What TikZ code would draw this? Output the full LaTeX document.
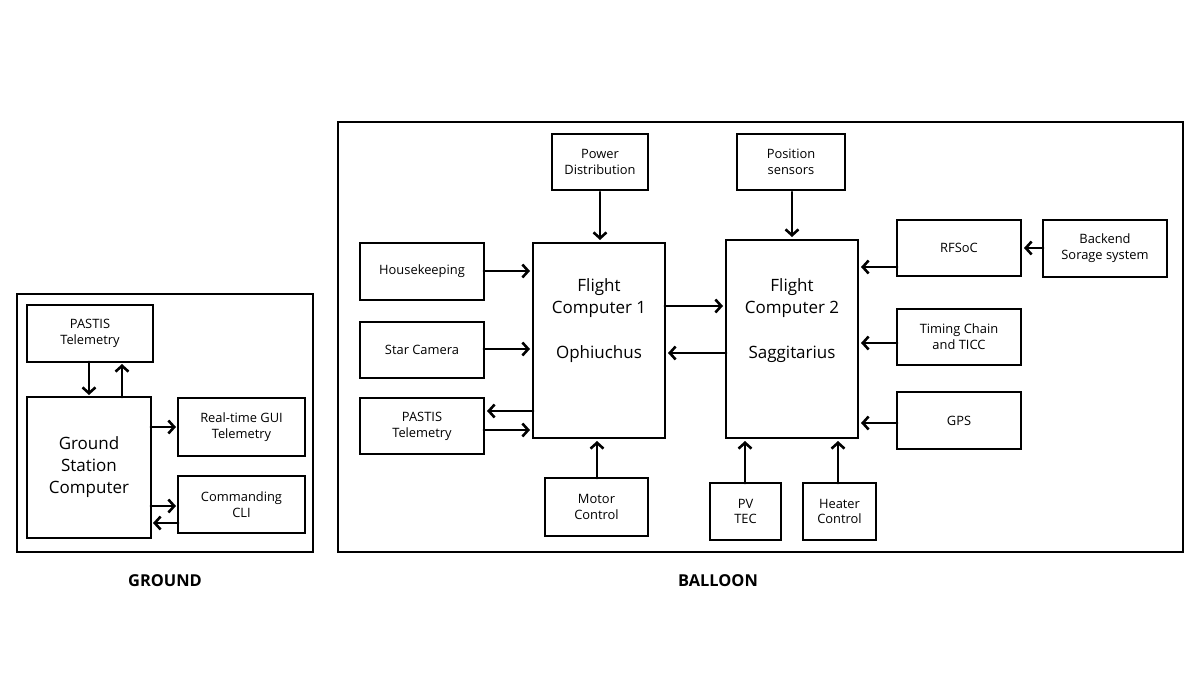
\documentclass[tikz,border=0pt]{standalone}
\usepackage{fontspec}
\setmainfont{Open Sans}
\usetikzlibrary{arrows.meta}
\begin{document}
\begin{tikzpicture}[x=0.03cm,y=-0.03cm,
 box/.style={draw,line width=1.6pt,inner sep=0pt},
 sm/.style={font=\fontsize{11}{13.5}\selectfont,align=center},
 big/.style={font=\fontsize{14.5}{19}\selectfont,align=center},
 lab/.style={font=\fontsize{14}{16}\selectfont\bfseries},
 ar/.style={line width=2.4pt,line cap=round,-{Straight Barb[length=5pt,width=11pt,line width=2.2pt]}}]
\useasboundingbox (0,0) rectangle (1200,675);
\newcommand{\bx}[6]{\draw[box] (#2,#3) rectangle (#4,#5); \node[sm] (#1) at ({(#2+#4)/2},{(#3+#5)/2}) {#6};
 \coordinate (#1nw) at (#2,#3); \coordinate (#1se) at (#4,#5);}
% outer frames
\draw[box] (17,294) rectangle (313,552);
\draw[box] (338,122) rectangle (1183,552);
\node[lab] (glab) at (165,581) {GROUND};
\node[lab] (blab) at (718,581) {BALLOON};
% ground
\bx{gp}{27}{305}{153}{362}{PASTIS\\Telemetry}
\draw[box] (27,397) rectangle (151,538);
\node[big] (gsc) at (89,467) {Ground\\Station\\Computer};
\bx{gui}{178}{398}{305}{456}{Real-time GUI\\Telemetry}
\bx{cli}{178}{476}{305}{533}{Commanding\\CLI}
\draw[ar] (89,362) -- (89,395);
\draw[ar] (122,397) -- (122,364);
\draw[ar] (151,427) -- (176,427);
\draw[ar] (151,506) -- (176,506);
\draw[ar] (178,523) -- (153,523);
% balloon
\bx{pd}{552}{134}{648}{190}{Power\\Distribution}
\bx{ps}{737}{134}{845}{190}{Position\\sensors}
\bx{hk}{360}{243}{484}{300}{Housekeeping}
\bx{sc}{360}{322}{484}{378}{Star Camera}
\bx{pt}{360}{398}{484}{454}{PASTIS\\Telemetry}
\draw[box] (533,243) rectangle (665,438);
\node[big] (fc1a) at (599,298) {Flight\\Computer 1};
\node[big] (fc1b) at (599,354) {Ophiuchus};
\draw[box] (726,240) rectangle (858,438);
\node[big] (fc2a) at (792,298) {Flight\\Computer 2};
\node[big] (fc2b) at (792,354) {Saggitarius};
\bx{rf}{897}{220}{1021}{276}{RFSoC}
\bx{be}{1043}{220}{1167}{277}{Backend\\Sorage system}
\bx{tc}{897}{309}{1021}{365}{Timing Chain\\and TICC}
\bx{gps}{897}{392}{1021}{449}{GPS}
\bx{mc}{545}{478}{648}{536}{Motor\\Control}
\bx{pv}{710}{483}{781}{540}{PV\\TEC}
\bx{hc}{803}{483}{876}{540}{Heater\\Control}
\draw[ar] (600,192) -- (600,240);
\draw[ar] (792,192) -- (792,237);
\draw[ar] (484,271) -- (530,271);
\draw[ar] (484,349) -- (530,349);
\draw[ar] (533,411) -- (487,411);
\draw[ar] (484,430) -- (530,430);
\draw[ar] (665,306) -- (723,306);
\draw[ar] (726,353) -- (668,353);
\draw[ar] (897,267) -- (861,267);
\draw[ar] (1043,248) -- (1024,248);
\draw[ar] (897,343) -- (861,343);
\draw[ar] (897,423) -- (861,423);
\draw[ar] (597,478) -- (597,441);
\draw[ar] (745,483) -- (745,441);
\draw[ar] (838,483) -- (838,441);
\end{tikzpicture}
\end{document}
